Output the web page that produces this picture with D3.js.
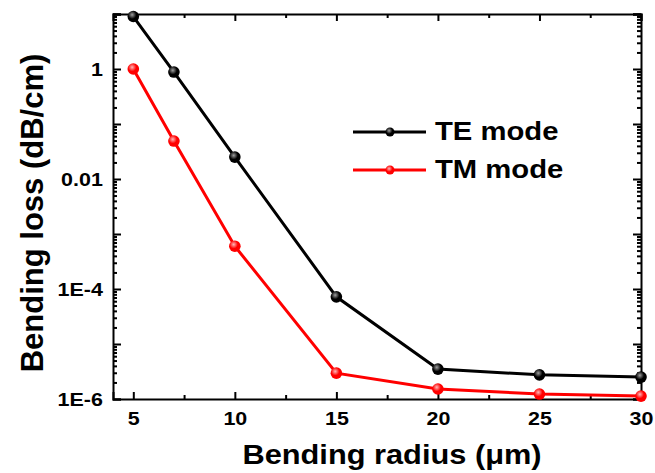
<!DOCTYPE html>
<html lang="en">
<head>
    <meta charset="UTF-8">
    <title>Bending loss</title>
    <script src="https://d3js.org/d3.v7.min.js"></script>
    <style>
        body { margin: 0; background: white; }
        svg text { font-family: 'Liberation Sans', Arial, sans-serif; font-weight: bold; fill: black; }
        .axis path, .axis line { stroke: black; stroke-width: 2px; }
    </style>
</head>
<body>
<div id="chart"></div>
<script>
    // data
    const radius = [5, 7, 10, 15, 20, 25, 30];
    const teLoss = [9.0, 0.88, 0.025, 7.2e-5, 3.5e-6, 2.75e-6, 2.5e-6];
    const tmLoss = [1.0, 0.049, 6.0e-4, 2.95e-6, 1.52e-6, 1.23e-6, 1.13e-6];
    const seriesNames = ["TE mode", "TM mode"];
    const seriesColors = ["#000000", "#ff0000"];
    const xMajor = [5, 10, 15, 20, 25, 30];
    const xMinor = [7.5, 12.5, 17.5, 22.5, 27.5];
    const yLabelled = [1e-6, 1e-4, 0.01, 1];
    const yLabelText = ["1E-6", "1E-4", "0.01", "1"];

    const W = 655, H = 473;
    const margin = {top: 14, right: 14, bottom: 74, left: 113};

    const svg = d3.select("#chart").append("svg")
        .attr("width", W).attr("height", H);

    const x = d3.scaleLinear().domain([4, 30]).range([margin.left, W - margin.right]);
    const y = d3.scaleLog().domain([1e-6, 10]).range([H - margin.bottom, margin.top]);

    // gradients for the glossy markers
    const defs = svg.append("defs");
    const glossStops = [["#a0a0a0", "#000000"], ["#ffb8b8", "#ff0000"]];
    glossStops.forEach((c, i) => {
        const g = defs.append("radialGradient").attr("id", "gloss" + i)
            .attr("cx", "40%").attr("cy", "35%").attr("r", "65%");
        g.append("stop").attr("offset", "0%").attr("stop-color", c[0]);
        g.append("stop").attr("offset", "55%").attr("stop-color", c[1]);
        g.append("stop").attr("offset", "100%").attr("stop-color", c[1]);
    });

    // y ticks: every decade major, 2..9 minor
    const decades = d3.range(-6, 2).map(e => Math.pow(10, e));
    const yMajor = decades.concat([10]);
    const yMinor = [];
    decades.forEach(d => { for (let k = 2; k <= 9; k++) yMinor.push(d * k); });

    const fmtY = v => {
        const i = yLabelled.findIndex(l => Math.abs(Math.log10(l) - Math.log10(v)) < 1e-6);
        return i >= 0 ? yLabelText[i] : "";
    };

    const bottomY = H - margin.bottom, rightX = W - margin.right;
    const stretch = 1.13;   // the lettering in the picture is a bit wide

    // bottom axis
    svg.append("g").attr("class", "axis").attr("transform", `translate(0,${bottomY})`)
        .call(d3.axisBottom(x).tickValues(xMajor).tickSize(-7).tickPadding(13).tickFormat(d3.format("d")))
        .call(g => g.selectAll("text").style("font-size", "19px").attr("transform", `scale(${stretch},1)`));
    svg.append("g").attr("class", "axis").attr("transform", `translate(0,${bottomY})`)
        .call(d3.axisBottom(x).tickValues(xMinor).tickSize(-4).tickFormat(""))
        .call(g => g.select(".domain").remove());
    // top axis
    svg.append("g").attr("class", "axis").attr("transform", `translate(0,${margin.top})`)
        .call(d3.axisTop(x).tickValues(xMajor).tickSize(-7).tickFormat(""));
    svg.append("g").attr("class", "axis").attr("transform", `translate(0,${margin.top})`)
        .call(d3.axisTop(x).tickValues(xMinor).tickSize(-4).tickFormat(""))
        .call(g => g.select(".domain").remove());

    // left axis
    svg.append("g").attr("class", "axis").attr("transform", `translate(${margin.left},0)`)
        .call(d3.axisLeft(y).tickValues(yMajor).tickSize(-8).tickPadding(9).tickFormat(fmtY))
        .call(g => g.selectAll("text").style("font-size", "19px").attr("transform", `scale(${stretch},1)`));
    svg.append("g").attr("class", "axis").attr("transform", `translate(${margin.left},0)`)
        .call(d3.axisLeft(y).tickValues(yMinor).tickSize(-4).tickFormat(""))
        .call(g => g.select(".domain").remove());
    // right axis
    svg.append("g").attr("class", "axis").attr("transform", `translate(${rightX},0)`)
        .call(d3.axisRight(y).tickValues(yMajor).tickSize(-8).tickFormat(""));
    svg.append("g").attr("class", "axis").attr("transform", `translate(${rightX},0)`)
        .call(d3.axisRight(y).tickValues(yMinor).tickSize(-4).tickFormat(""))
        .call(g => g.select(".domain").remove());

    // series
    const series = [teLoss, tmLoss];
    const line = d3.line().x(d => x(d[0])).y(d => y(d[1]));
    series.forEach((vals, i) => {
        const pts = radius.map((r, j) => [r, vals[j]]);
        svg.append("path").datum(pts)
            .attr("fill", "none").attr("stroke", seriesColors[i])
            .attr("stroke-width", 3).attr("d", line);
        svg.append("g").selectAll("circle").data(pts).join("circle")
            .attr("cx", d => x(d[0])).attr("cy", d => y(d[1])).attr("r", 5.8)
            .attr("fill", `url(#gloss${i})`);
    });

    // legend
    const legY = [132, 170];
    seriesNames.forEach((name, i) => {
        const g = svg.append("g");
        g.append("line").attr("x1", 353).attr("x2", 426).attr("y1", legY[i]).attr("y2", legY[i])
            .attr("stroke", seriesColors[i]).attr("stroke-width", 2.8);
        g.append("circle").attr("cx", 390).attr("cy", legY[i]).attr("r", 4.5)
            .attr("fill", `url(#gloss${i})`);
        g.append("text").attr("transform", `translate(435,${legY[i] + 8}) scale(1.17,1)`)
            .style("font-size", "25px").text(name);
    });

    // axis titles
    svg.append("text").attr("transform", `translate(392,464) scale(1.14,1)`).attr("text-anchor", "middle")
        .style("font-size", "27px").text("Bending radius (\u03bcm)");
    svg.append("text").attr("transform", "translate(43,213) rotate(-90)").attr("text-anchor", "middle")
        .style("font-size", "31px").text("Bending loss (dB/cm)");
</script>
</body>
</html>
